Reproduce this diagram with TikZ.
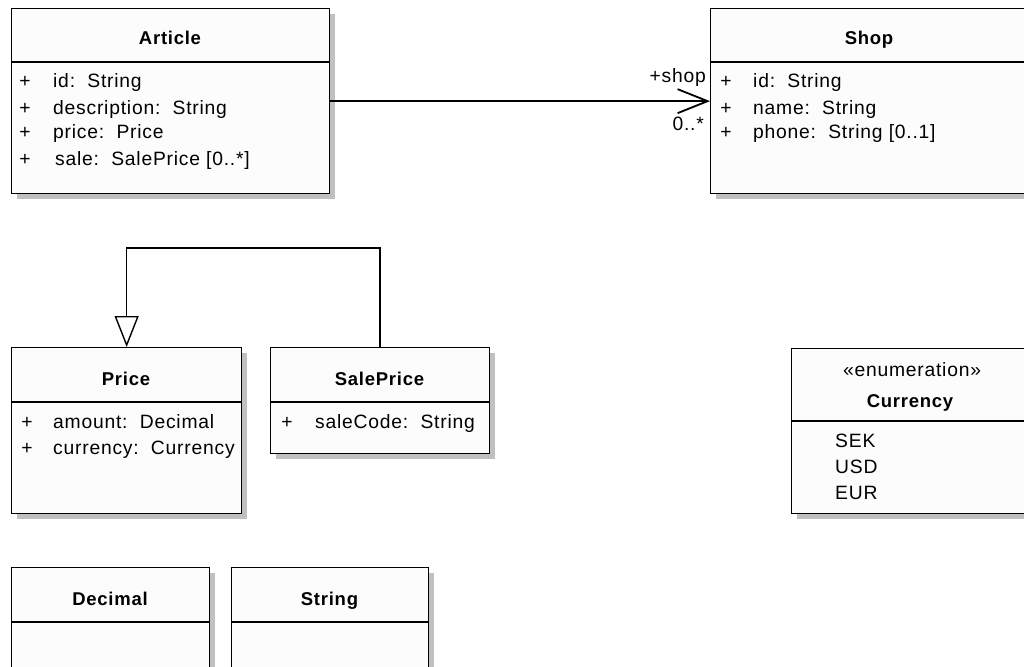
\documentclass[tikz,border=0pt]{standalone}
\usepackage{fontspec}
\setmainfont{Liberation Sans}[LetterSpace=4]
\usetikzlibrary{arrows.meta,shadows}
\definecolor{boxfill}{HTML}{FCFCFC}
\definecolor{shadowgray}{HTML}{C0C0C0}
\begin{document}
\begin{tikzpicture}[x=1pt,y=-1pt,
  classbox/.style={draw=black, line width=1.3pt, fill=boxfill, anchor=north west, inner sep=0pt,
    drop shadow={shadow xshift=5pt, shadow yshift=-5pt, fill=shadowgray, opacity=1}},
  title/.style={font=\fontsize{18.5}{22}\selectfont\bfseries, inner sep=0pt, anchor=base},
  attr/.style={font=\fontsize{19.3}{22}\selectfont, inner sep=0pt, anchor=base west},
  vis/.style={font=\fontsize{19.3}{22}\selectfont, inner sep=0pt, anchor=base},
  divider/.style={line width=1.3pt},
  conn/.style={line width=1.4pt}]
\useasboundingbox (0,0) rectangle (1024,666);
\clip (0,0) rectangle (1024,666);
\fill[white] (0,0) rectangle (1024,666);

% Article
\node[classbox, minimum width=318pt, minimum height=185pt] (art) at (11,8) {};
\draw[divider] ([yshift=-54pt]art.north west) -- ([yshift=-54pt]art.north east);
\node[title] (artT) at (170,45) {Article};
\node[vis] (artp1) at (25,88) {+};
\node[attr] (arta1) at (53,88) {id:\ \ String};
\node[vis] (artp2) at (25,114) {+};
\node[attr] (arta2) at (53,114) {description:\ \ String};
\node[vis] (artp3) at (25,139) {+};
\node[attr] (arta3) at (53,139) {price:\ \ Price};
\node[vis] (artp4) at (25,165) {+};
\node[attr] (arta4) at (55,165) {sale:\ \ SalePrice [0..*]};

% Shop
\node[classbox, minimum width=318pt, minimum height=185pt] (shop) at (710,8) {};
\draw[divider] ([yshift=-54pt]shop.north west) -- ([yshift=-54pt]shop.north east);
\node[title] (shopT) at (869,45) {Shop};
\node[vis] (shopp1) at (726,88) {+};
\node[attr] (shopa1) at (753,88) {id:\ \ String};
\node[vis] (shopp2) at (726,114) {+};
\node[attr] (shopa2) at (753,114) {name:\ \ String};
\node[vis] (shopp3) at (726,139) {+};
\node[attr] (shopa3) at (753,139) {phone:\ \ String [0..1]};

% Price
\node[classbox, minimum width=230pt, minimum height=166pt] (price) at (11,347) {};
\draw[divider] ([yshift=-55pt]price.north west) -- ([yshift=-55pt]price.north east);
\node[title] (priceT) at (126,385) {Price};
\node[vis] (pricep1) at (27,428) {+};
\node[attr] (pricea1) at (53,428) {amount:\ \ Decimal};
\node[vis] (pricep2) at (27,454) {+};
\node[attr] (pricea2) at (53,454) {currency:\ \ Currency};

% SalePrice
\node[classbox, minimum width=219pt, minimum height=106pt] (salep) at (270,347) {};
\draw[divider] ([yshift=-55pt]salep.north west) -- ([yshift=-55pt]salep.north east);
\node[title] (salepT) at (379.5,385) {SalePrice};
\node[vis] (salepp1) at (287,428) {+};
\node[attr] (salepa1) at (315,428) {saleCode:\ \ String};

% Currency
\node[classbox, minimum width=240pt, minimum height=165pt] (curr) at (791,348) {};
\draw[divider] ([yshift=-73pt]curr.north west) -- ([yshift=-73pt]curr.north east);
\node[vis] (currS) at (912,376) {«enumeration»};
\node[title] (currT) at (910,407) {Currency};
\node[attr] (curr1) at (835,447) {SEK};
\node[attr] (curr2) at (835,473) {USD};
\node[attr] (curr3) at (835,499) {EUR};

% Decimal
\node[classbox, minimum width=198pt, minimum height=120pt] (dec) at (11,567) {};
\draw[divider] ([yshift=-55pt]dec.north west) -- ([yshift=-55pt]dec.north east);
\node[title] (decT) at (110,605) {Decimal};

% String
\node[classbox, minimum width=197pt, minimum height=120pt] (str) at (231,567) {};
\draw[divider] ([yshift=-55pt]str.north west) -- ([yshift=-55pt]str.north east);
\node[title] (strT) at (329.5,605) {String};

% Association Article -> Shop
\draw[conn, -{Straight Barb[length=30pt,width=24pt,line width=1.8pt]}] (art.east) -- (shop.west);
\node[vis, anchor=base east] (lshop) at (706,83) {+shop};
\node[vis, anchor=base east] (lmult) at (704,130) {0..*};

% Generalization SalePrice -> Price
\draw[conn, -{Triangle[open,length=31pt,width=24pt,fill=white,line width=1.4pt]}] (salep.north) -- ++(0,-99) -| (price.north);
\end{tikzpicture}
\end{document}
